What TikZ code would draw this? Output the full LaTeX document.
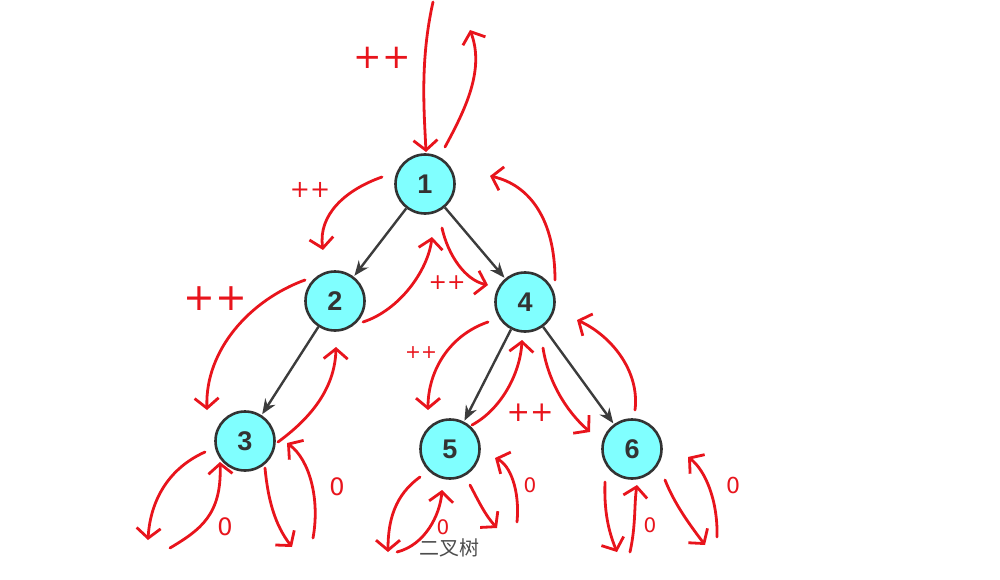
\documentclass[tikz,border=0pt]{standalone}
\usepackage{fontspec}
\setmainfont{Liberation Sans}
\newfontfamily\cjk{Noto Sans CJK SC}
\newfontfamily\handf{DejaVu Sans}
\usetikzlibrary{arrows.meta}
\definecolor{nodefill}{HTML}{80FFFF}
\definecolor{nodeline}{HTML}{333333}
\definecolor{edgecol}{HTML}{3C3C3C}
\definecolor{inkred}{HTML}{E8141C}
\tikzset{
  treenode/.style={circle, draw=nodeline, line width=2.6pt, fill=nodefill,
    minimum size=59pt, inner sep=0pt, text=nodeline,
    font=\fontsize{27}{27}\selectfont\bfseries},
  treeedge/.style={draw=edgecol, line width=2.4pt,
    -{Stealth[length=15pt,width=12pt]}, shorten >=1pt},
  inkarrow/.style={draw=inkred, line width=2.8pt, line cap=round,
    -{Straight Barb[length=10pt,width=24pt,line width=2.8pt]}},
  inklabel/.style={text=inkred, inner sep=0pt},
  caption/.style={text=black!70, font=\cjk\fontsize{20}{20}\selectfont}
}
\begin{document}
\begin{tikzpicture}[x=1pt,y=-1pt]
\useasboundingbox (0,0) rectangle (1000,580);
% tree nodes
\node[treenode] (n1) at (425,184) {1};
\node[treenode] (n2) at (335,301) {2};
\node[treenode] (n4) at (525,302) {4};
\node[treenode] (n3) at (245,441) {3};
\node[treenode] (n5) at (450,449) {5};
\node[treenode] (n6) at (632,449) {6};
% tree edges
\draw[treeedge] (n1) -- (n2);
\draw[treeedge] (n1) -- (n4);
\draw[treeedge] (n2) -- (n3);
\draw[treeedge] (n4) -- (n5);
\draw[treeedge] (n4) -- (n6);
% caption
\node[caption] (cap) at (449,548) {二叉树};
% coordinates for ink arrows
\coordinate (a1s) at (433,2);    \coordinate (a1e) at (426,152);
\coordinate (a2s) at (445,147);  \coordinate (a2e) at (470,30);
\coordinate (a3s) at (382,177);  \coordinate (a3e) at (323,250);
\coordinate (a4s) at (555,280);  \coordinate (a4e) at (490,176);
\coordinate (a5s) at (442,228);  \coordinate (a5e) at (488,285);
\coordinate (a6s) at (363,322);  \coordinate (a6e) at (432,237);
\coordinate (a7s) at (305,280);  \coordinate (a7e) at (207,410);
\coordinate (a8s) at (278,442);  \coordinate (a8e) at (336,347);
\coordinate (a9s) at (205,452);  \coordinate (a9e) at (148,540);
\coordinate (a10s) at (170,548); \coordinate (a10e) at (220,462);
\coordinate (a11s) at (265,468); \coordinate (a11e) at (292,547);
\coordinate (a12s) at (313,538); \coordinate (a12e) at (287,443);
\coordinate (a13s) at (488,322); \coordinate (a13e) at (428,410);
\coordinate (a14s) at (472,425); \coordinate (a14e) at (522,340);
\coordinate (a15s) at (543,348); \coordinate (a15e) at (590,432);
\coordinate (a16s) at (635,410); \coordinate (a16e) at (577,320);
\coordinate (a17s) at (420,477); \coordinate (a17e) at (388,552);
\coordinate (a18s) at (397,552); \coordinate (a18e) at (442,490);
\coordinate (a19s) at (470,485); \coordinate (a19e) at (497,528);
\coordinate (a20s) at (517,522); \coordinate (a20e) at (495,458);
\coordinate (a21s) at (605,482); \coordinate (a21e) at (617,552);
\coordinate (a22s) at (630,552); \coordinate (a22e) at (637,485);
\coordinate (a23s) at (665,480); \coordinate (a23e) at (705,545);
\coordinate (a24s) at (717,537); \coordinate (a24e) at (688,457);
% ink arrows
\draw[inkarrow] (a1s) .. controls (420,60) and (424,110) .. (a1e);
\draw[inkarrow] (a2s) .. controls (465,110) and (485,70) .. (a2e);
\draw[inkarrow] (a3s) .. controls (345,190) and (318,215) .. (a3e);
\draw[inkarrow] (a4s) .. controls (555,220) and (530,185) .. (a4e);
\draw[inkarrow] (a5s) .. controls (448,255) and (465,280) .. (a5e);
\draw[inkarrow] (a6s) .. controls (400,310) and (428,270) .. (a6e);
\draw[inkarrow] (a7s) .. controls (250,300) and (205,350) .. (a7e);
\draw[inkarrow] (a8s) .. controls (315,415) and (335,385) .. (a8e);
\draw[inkarrow] (a9s) .. controls (165,470) and (150,505) .. (a9e);
\draw[inkarrow] (a10s) .. controls (200,530) and (222,515) .. (a10e);
\draw[inkarrow] (a11s) .. controls (268,500) and (275,525) .. (a11e);
\draw[inkarrow] (a12s) .. controls (320,500) and (310,460) .. (a12e);
\draw[inkarrow] (a13s) .. controls (450,335) and (428,370) .. (a13e);
\draw[inkarrow] (a14s) .. controls (500,410) and (520,375) .. (a14e);
\draw[inkarrow] (a15s) .. controls (548,380) and (565,410) .. (a15e);
\draw[inkarrow] (a16s) .. controls (640,370) and (610,335) .. (a16e);
\draw[inkarrow] (a17s) .. controls (395,495) and (388,520) .. (a17e);
\draw[inkarrow] (a18s) .. controls (425,545) and (440,515) .. (a18e);
\draw[inkarrow] (a19s) .. controls (478,500) and (485,515) .. (a19e);
\draw[inkarrow] (a20s) .. controls (520,490) and (510,465) .. (a20e);
\draw[inkarrow] (a21s) .. controls (604,510) and (608,530) .. (a21e);
\draw[inkarrow] (a22s) .. controls (636,525) and (634,505) .. (a22e);
\draw[inkarrow] (a23s) .. controls (675,505) and (690,525) .. (a23e);
\draw[inkarrow] (a24s) .. controls (718,500) and (705,470) .. (a24e);
% ink labels
\node[inklabel, font=\handf\fontsize{34}{34}\selectfont] (p1) at (382,58) {++};
\node[inklabel, font=\handf\fontsize{24}{24}\selectfont] (p2) at (310,190) {++};
\node[inklabel, font=\handf\fontsize{38}{38}\selectfont] (p3) at (215,299) {++};
\node[inklabel, font=\handf\fontsize{22}{22}\selectfont] (p4) at (447,283) {++};
\node[inklabel, font=\handf\fontsize{19}{19}\selectfont] (p5) at (421,353) {++};
\node[inklabel, font=\handf\fontsize{28}{28}\selectfont] (p6) at (530,413) {++};
\node[inklabel, font=\handf\fontsize{24}{24}\selectfont] (z1) at (225,527) {0};
\node[inklabel, font=\handf\fontsize{24}{24}\selectfont] (z2) at (337,487) {0};
\node[inklabel, font=\handf\fontsize{20}{20}\selectfont] (z3) at (443,527) {0};
\node[inklabel, font=\handf\fontsize{20}{20}\selectfont] (z4) at (530,485) {0};
\node[inklabel, font=\handf\fontsize{20}{20}\selectfont] (z5) at (650,525) {0};
\node[inklabel, font=\handf\fontsize{22}{22}\selectfont] (z6) at (733,485) {0};
\end{tikzpicture}
\end{document}
